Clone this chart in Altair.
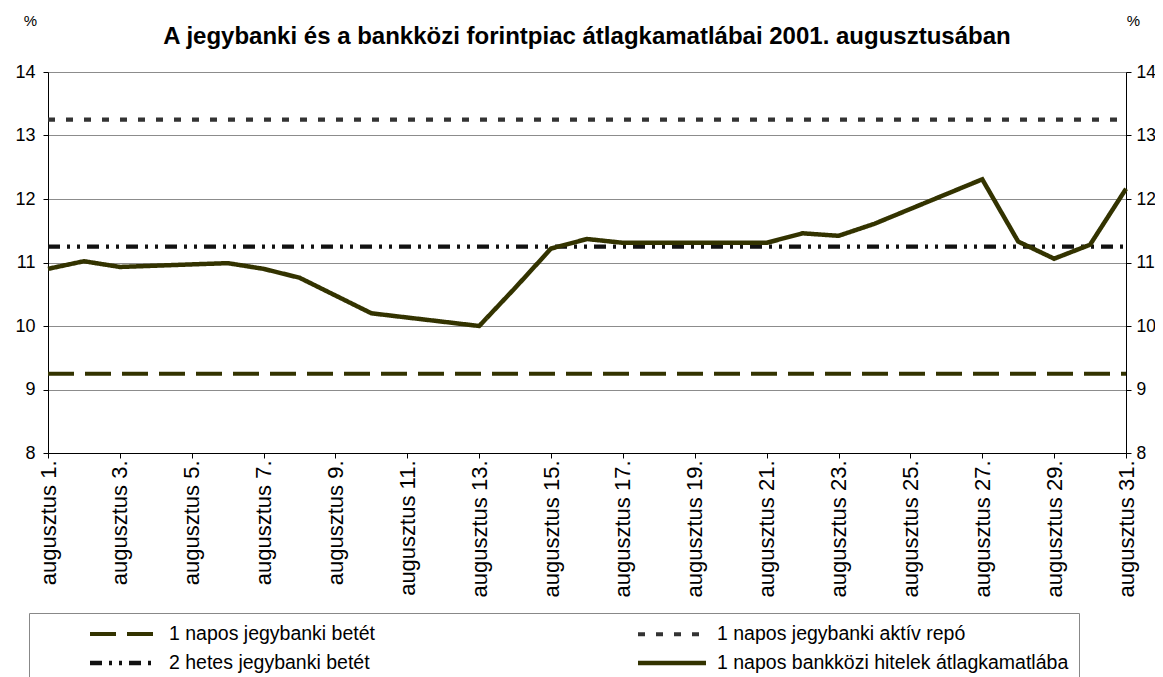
import altair as alt
import pandas as pd

# ---- data ----
trading_days = [1, 2, 3, 6, 7, 8, 9, 10, 13, 14, 15, 16, 17, 21, 22, 23, 24, 27, 28, 29, 30, 31]
interbank_rate = [10.90, 11.02, 10.93, 10.99, 10.90, 10.76, 10.48, 10.20, 10.00, 10.60, 11.22,
                  11.37, 11.31, 11.31, 11.46, 11.42, 11.61, 12.31, 11.33, 11.06, 11.28, 12.16]
deposit_1d = 9.25
repo_1d = 13.25
deposit_2w = 11.25
month_span = [1, 31]

series_names = [
    "1 napos jegybanki betét",
    "1 napos jegybanki aktív repó",
    "2 hetes jegybanki betét",
    "1 napos bankközi hitelek átlagkamatlába",
]
x_tick_days = list(range(1, 32, 2))
y_ticks = [8, 9, 10, 11, 12, 13, 14]

title_text = "A jegybanki és a bankközi forintpiac átlagkamatlábai 2001. augusztusában"

# ---- build long table ----
rows = []
for name, val in [(series_names[0], deposit_1d), (series_names[1], repo_1d), (series_names[2], deposit_2w)]:
    for d in month_span:
        rows.append({"day": d, "value": val, "series": name})
for d, v in zip(trading_days, interbank_rate):
    rows.append({"day": d, "value": v, "series": series_names[3]})
df = pd.DataFrame(rows)

FONT = "Liberation Sans"
colors = ["#333300", "#333333", "#111111", "#333300"]
dashes = [[26, 11], [7, 11], [12, 7, 3, 7, 3, 7], [1, 0]]
widths = [4, 4.5, 1.6, 3.5]

legend = alt.Legend(
    title=None, orient="none", legendX=-19, legendY=541, columns=2, direction="horizontal",
    symbolType="M-4,0H4", symbolSize=289, symbolOffset=74, labelOffset=34,
    columnPadding=212, rowPadding=8, padding=10, strokeColor="#888888",
    labelFontSize=19.5, labelFont=FONT, labelColor="black", labelLimit=800,
)

x_enc = alt.X(
    "day:Q",
    scale=alt.Scale(domain=[1, 31], nice=False, zero=False),
    axis=alt.Axis(
        values=x_tick_days, labelExpr="'augusztus ' + datum.value + '.'",
        labelAngle=270, title=None, grid=False, tickSize=5, tickColor="black",
        domainColor="black", labelFont=FONT, labelFontSize=22, labelColor="black",
        labelPadding=2, labelOverlap=False, labelFlush=False,
    ),
)

y_scale = alt.Scale(domain=[8, 14], nice=False, zero=False)

lines = alt.Chart(df).mark_line(strokeCap="butt").encode(
    x=x_enc,
    y=alt.Y(
        "value:Q", scale=y_scale,
        axis=alt.Axis(
            values=y_ticks, title="%", titleAngle=0, titleX=-18, titleY=-52,
            titleAlign="center", titleBaseline="middle", titleFont=FONT,
            titleFontSize=15, titleFontWeight="normal", titleColor="black",
            grid=True, gridColor="#8c8c8c", gridWidth=1, tickSize=5, tickColor="black",
            domainColor="black", labelFont=FONT, labelFontSize=18, labelColor="black",
            labelPadding=8,
        ),
    ),
    stroke=alt.Stroke("series:N", scale=alt.Scale(domain=series_names, range=colors), legend=legend),
    strokeDash=alt.StrokeDash("series:N", scale=alt.Scale(domain=series_names, range=dashes), legend=legend),
    strokeWidth=alt.StrokeWidth("series:N", scale=alt.Scale(domain=series_names, range=widths), legend=legend),
)

right_axis = alt.Chart(df).mark_line(opacity=0).encode(
    x=alt.X("day:Q"),
    y=alt.Y(
        "value:Q", scale=y_scale,
        axis=alt.Axis(
            orient="right", values=y_ticks, title="%", titleAngle=0, titleX=7, titleY=-52,
            titleAlign="center", titleBaseline="middle", titleFont=FONT,
            titleFontSize=15, titleFontWeight="normal", titleColor="black",
            grid=False, tickSize=5, tickColor="black", domainColor="black",
            labelFont=FONT, labelFontSize=17.5, labelColor="black", labelPadding=5,
        ),
    ),
    detail="series:N",
)

chart = alt.layer(lines, right_axis).resolve_scale(y="independent").properties(
    width=1078, height=381,
    autosize=alt.AutoSizeParams(type="none"),
    padding={"left": 40, "top": 64, "right": 29, "bottom": 225},
    title=alt.TitleParams(
        title_text, font=FONT, fontSize=24, fontWeight="bold", color="black",
        anchor="middle", dy=40,
    ),
).configure_view(stroke=None).configure(background="white")

chart.save("out.html", embed_options={"renderer": "svg", "actions": False})
